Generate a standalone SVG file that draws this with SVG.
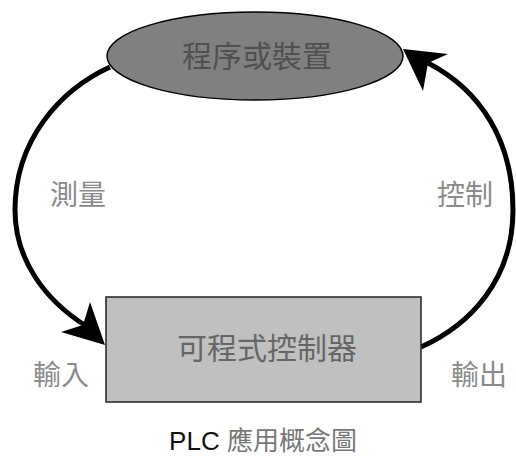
<svg xmlns="http://www.w3.org/2000/svg" width="516" height="461" viewBox="0 0 516 461">
<style>
.cjk{font-family:"Noto Sans CJK TC","Noto Sans CJK SC",sans-serif;}
.lbl{font-size:28px;fill:#8a8a8a;}
.conn{fill:none;stroke:#000;stroke-width:5;}
</style>
<rect width="516" height="461" fill="#fff"/>
<g id="connectors">
<path class="conn" d="M110,67 C60,90 15,140 15,210 C15,260 45,300 86,326"/>
<polygon points="105,345 90,302 83,325 61,332" fill="#000"/>
<path class="conn" d="M421,347 C470,325 513,280 513,210 C513,140 480,90 428,63"/>
<polygon points="403,49 448,54 428,63 423,91" fill="#000"/>
</g>
<g id="process">
<ellipse cx="255" cy="56" rx="148" ry="44" fill="#808080" stroke="#000" stroke-width="1.5"/>
<text class="cjk" x="257" y="67" font-size="30" fill="#505050" text-anchor="middle">程序或裝置</text>
</g>
<g id="plc">
<rect x="106" y="297" width="315" height="105" fill="#c0c0c0" stroke="#222" stroke-width="1.5"/>
<text class="cjk" x="267" y="359" font-size="30" fill="#666" text-anchor="middle">可程式控制器</text>
</g>
<text class="cjk lbl" x="78" y="205" text-anchor="middle">測量</text>
<text class="cjk lbl" x="465" y="205" text-anchor="middle">控制</text>
<text class="cjk lbl" x="61" y="385" text-anchor="middle">輸入</text>
<text class="cjk lbl" x="479" y="385" text-anchor="middle">輸出</text>
<text x="263" y="450" font-size="26" text-anchor="middle"><tspan font-family="Liberation Sans, sans-serif" fill="#111">PLC </tspan><tspan class="cjk" fill="#777">應用概念圖</tspan></text>
</svg>
